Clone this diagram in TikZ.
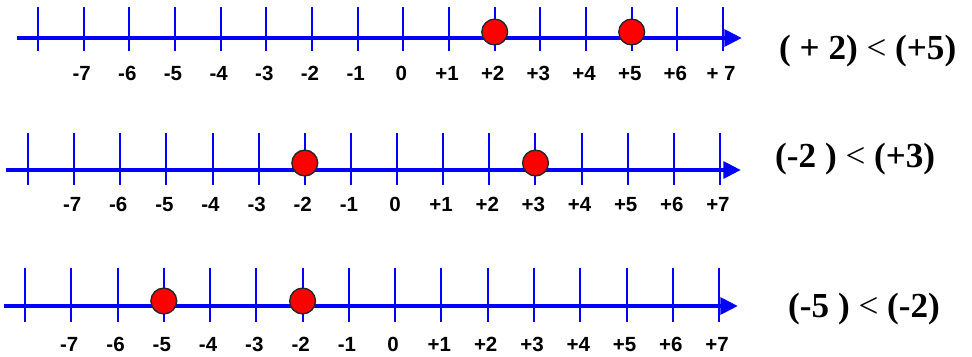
\documentclass[tikz,border=0pt]{standalone}
\usepackage{fontspec}
\setmainfont{Liberation Serif}
\setsansfont{Liberation Sans}
\usetikzlibrary{arrows.meta}
\definecolor{lineblue}{RGB}{0,0,255}
\definecolor{dotred}{RGB}{255,0,0}

\begin{document}
\begin{tikzpicture}[x=0.03cm,y=-0.03cm,
  numline/.style={draw=lineblue,line width=4.25pt,-{Triangle[length=15pt,width=14pt]}},
  tickmark/.style={draw=lineblue,line width=1.7pt},
  numlabel/.style={font=\sffamily\bfseries\fontsize{17.5}{20}\selectfont,anchor=base,inner sep=0pt},
  cmptext/.style={font=\bfseries\fontsize{30}{34}\selectfont,anchor=base west,inner sep=0pt},
  reddot/.style={fill=dotred,draw=black!85,line width=1.2pt}]
\useasboundingbox (0,0) rectangle (972,356);
% first line: +2 and +5
\begin{scope}
\draw[numline] (17,38) -- (742,38);
\foreach \i in {0,...,15} \draw[tickmark] ({38+\i*45.67},7) -- ({38+\i*45.67},51);
\foreach \lab [count=\i] in {-7,-6,-5,-4,-3,-2,-1,0,+1,+2,+3,+4,+5,+6,{+ 7}}
  \node[numlabel] (a\i) at ({36+\i*45.67},80) {\lab};
\filldraw[reddot] (494.7,32) circle (11pt);
\filldraw[reddot] (631.7,32) circle (11pt);
\node[cmptext] (cmpa) at (779,59) {( + 2) {\mdseries<} (+5)};
\end{scope}
% second line: -2 and +3
\begin{scope}
\draw[numline] (6,170) -- (741,170);
\foreach \i in {0,...,15} \draw[tickmark] ({28+\i*46.13},133) -- ({28+\i*46.13},185);
\foreach \lab [count=\i] in {-7,-6,-5,-4,-3,-2,-1,0,+1,+2,+3,+4,+5,+6,+7}
  \node[numlabel] (b\i) at ({26+\i*46.13},211) {\lab};
\filldraw[reddot] (304.8,163) circle (11pt);
\filldraw[reddot] (535.5,163) circle (11pt);
\node[cmptext] (cmpb) at (775,167) {(-2 ) {\mdseries<} (+3)};
\end{scope}
% third line: -5 and -2
\begin{scope}
\draw[numline] (4,306) -- (738,306);
\foreach \i in {0,...,15} \draw[tickmark] ({25+\i*46.27},268) -- ({25+\i*46.27},322);
\foreach \lab [count=\i] in {-7,-6,-5,-4,-3,-2,-1,0,+1,+2,+3,+4,+5,+6,+7}
  \node[numlabel] (c\i) at ({23+\i*46.27},351) {\lab};
\filldraw[reddot] (163.8,301) circle (11pt);
\filldraw[reddot] (302.6,301) circle (11pt);
\node[cmptext] (cmpc) at (788,317) {(-5 ) {\mdseries<} (-2)};
\end{scope}
\end{tikzpicture}
\end{document}
